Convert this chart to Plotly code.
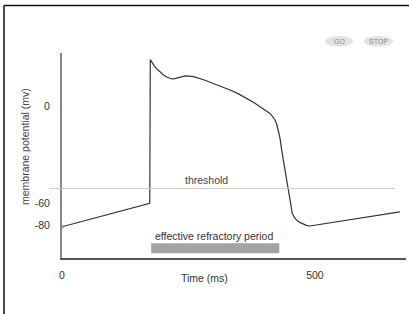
import plotly.graph_objects as go

# Action potential trace (time in ms, membrane potential in mV)
time_ms = [0, 173.5, 174.5, 178, 182, 187.5, 194, 200.6, 208, 217.1, 223, 230.2, 236,
           243.4, 251, 259.8, 280, 299.3, 316, 332.2, 349, 365.2, 380, 391.4, 401,
           411.1, 416, 421.0, 424.5, 427.6, 431, 434.3, 440.8, 446.1, 450.6, 453,
           455.2, 459, 463.9, 470, 476.9, 483, 490.1, 667.8]
potential_mv = [-80, -64.5, 30.7, 28.6, 26.8, 24.6, 22.3, 20.5, 19.0, 17.9, 18.1, 18.9,
                19.6, 19.9, 19.8, 19.4, 17.4, 15.0, 12.9, 10.6, 8.0, 5.1, 2.2, -0.5,
                -2.6, -4.9, -6.8, -9.3, -12.1, -15.9, -21.5, -29.2, -42.4, -54.6,
                -64.5, -68.5, -71.1, -73.7, -75.6, -77.1, -78.2, -79.1, -79.5, -70.1]

threshold_mv = -54.7
erp_start_ms = 176.3
erp_end_ms = 429.5
erp_level_mv = -94.3

xtick_vals = [0, 500]
xtick_text = ["0", "500"]
ytick_vals = [0, -64.5, -79]
ytick_text = ["0", "-60", "-80"]

W, H = 409, 314
L, R, T, B = 62, 3, 53, 56
PW, PH = W - L - R, H - T - B


def px(x):
    return (x - L) / PW


def py(y):
    return (H - B - y) / PH


FONT = "Liberation Sans, Arial, sans-serif"

fig = go.Figure()

# ERP bar
fig.add_trace(go.Bar(
    y=[erp_level_mv], x=[erp_end_ms - erp_start_ms], base=[erp_start_ms],
    orientation="h", width=6.6, marker=dict(color="#a3a3a3", line=dict(width=0)),
    hoverinfo="skip", showlegend=False))

# Action potential
fig.add_trace(go.Scatter(
    x=time_ms, y=potential_mv, mode="lines",
    line=dict(color="#333333", width=1.2),
    showlegend=False, hoverinfo="skip"))

# start dot
fig.add_trace(go.Scatter(
    x=[time_ms[0]], y=[potential_mv[0]], mode="markers",
    marker=dict(color="#999999", size=4), cliponaxis=False,
    showlegend=False, hoverinfo="skip"))

shapes = [
    # threshold line (extends left past the y axis)
    dict(type="line", xref="paper", yref="y", x0=px(49.3), x1=px(394.3),
         y0=threshold_mv, y1=threshold_mv, line=dict(color="#cccccc", width=1)),
    # frame
    dict(type="line", xref="paper", yref="paper", x0=px(4), x1=px(410),
         y0=py(5.5), y1=py(5.5), line=dict(color="#111111", width=1.5)),
    dict(type="line", xref="paper", yref="paper", x0=px(4), x1=px(4),
         y0=py(5.5), y1=py(320), line=dict(color="#111111", width=1.5)),
    # GO / STOP buttons
    dict(type="circle", xref="paper", yref="paper", x0=px(325), x1=px(353),
         y0=py(46.5), y1=py(36), fillcolor="#e3e3e3", line=dict(width=0)),
    dict(type="circle", xref="paper", yref="paper", x0=px(364), x1=px(393),
         y0=py(46.5), y1=py(36), fillcolor="#e3e3e3", line=dict(width=0)),
]


def ann(text, x, y, size=10.5, color="#333333", xref="paper", yref="paper",
        xanchor="center", **kw):
    return dict(text=text, x=x, y=y, xref=xref, yref=yref, xanchor=xanchor,
                yanchor="middle", showarrow=False,
                font=dict(size=size, color=color, family=FONT), **kw)


annotations = [
    ann("threshold", 286, threshold_mv, color="#444444", xref="x", yref="y",
        yshift=9),
    ann("effective refractory period", erp_start_ms + 3, -86, xref="x", yref="y",
        xanchor="left"),
    ann("Time (ms)", px(204), py(278)),
    ann("membrane potential (mv)", px(25), py(147), color="#444444",
        textangle=-90),
    ann("GO", px(339), py(41.2), size=7, color="#8a8a8a"),
    ann("STOP", px(378.5), py(41.2), size=7, color="#8a8a8a"),
]

fig.update_layout(
    width=W, height=H,
    margin=dict(l=L, r=R, t=T, b=B, pad=0),
    paper_bgcolor="white", plot_bgcolor="white",
    font=dict(family=FONT, size=10, color="#333333"),
    shapes=shapes, annotations=annotations, showlegend=False,
    xaxis=dict(range=[0, 680], showgrid=False, zeroline=False, showline=True,
               linecolor="#555555", linewidth=2, tickvals=xtick_vals,
               ticktext=xtick_text, ticks="", ticklabelstandoff=6,
               tickfont=dict(size=10.5, color="#333333")),
    yaxis=dict(range=[-100.7, 35.1], showgrid=False, zeroline=False, showline=True,
               linecolor="#888888", linewidth=2, tickvals=ytick_vals,
               ticktext=ytick_text, ticks="", ticklabelstandoff=8,
               tickfont=dict(size=10.5, color="#333333")),
)

fig.write_html(
    "out.html",
    config={"displayModeBar": False},
    post_script=(
        "document.body.style.margin='0';document.body.style.padding='0';"
        "document.body.style.overflow='hidden';"
        "document.documentElement.style.overflow='hidden';"
    ),
)
